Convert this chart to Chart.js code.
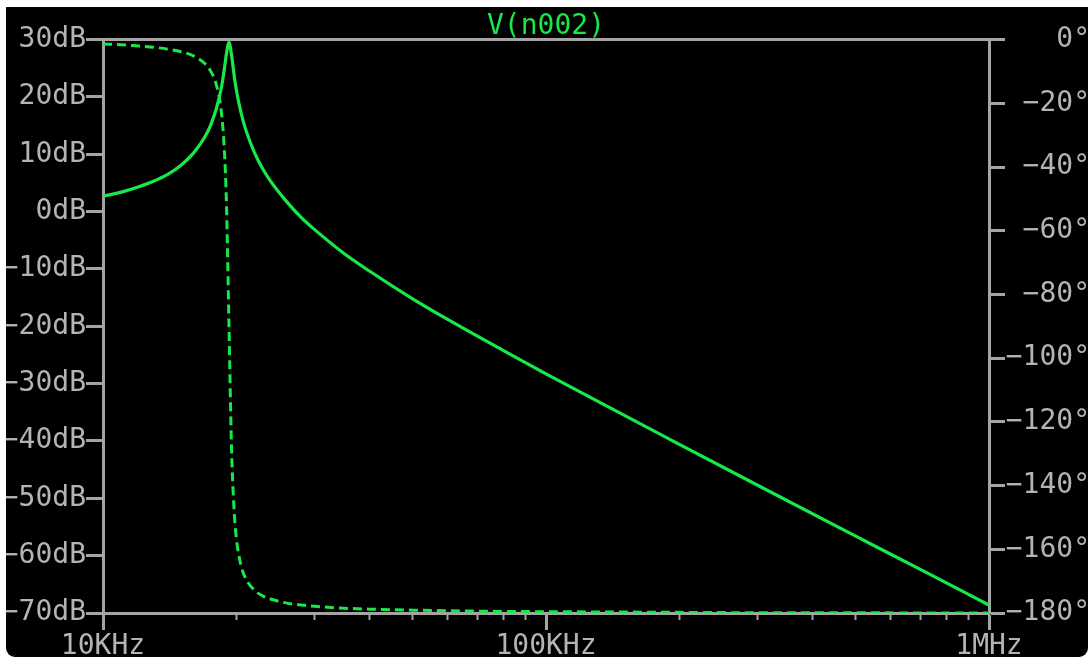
<!DOCTYPE html>
<html>
<head>
<meta charset="utf-8">
<script src="https://cdn.jsdelivr.net/npm/chart.js@4"></script>
<style>
  body { margin: 0; background: #fff; }
  #panel {
    position: absolute; left: 6px; top: 7px; width: 1082px; height: 650px;
    background: #000; overflow: hidden; border-radius: 0 0 9px 9px;
  }
  canvas { display: block; }
</style>
</head>
<body>
<div id="panel"><canvas id="chart" width="1100" height="650" style="width:1100px;height:650px"></canvas></div>
<script>
// AC sweep of node n002: frequency (Hz), magnitude (dB), phase (deg)
const freqHz = [10000, 11000, 12000, 13000, 14000, 15000, 16000, 17000, 17500, 18000,
  18500, 18800, 19000, 19250, 19500, 19800, 20000, 20500, 21000, 22000, 23000, 24000,
  26000, 28000, 30000, 35000, 40000, 50000, 60000, 80000, 100000, 150000, 200000,
  300000, 500000, 700000, 1000000];
const magDb = [2.7, 3.4, 4.3, 5.3, 6.5, 8.1, 10.2, 13.1, 15.1, 17.8,
  21.6, 25.0, 27.6, 29.5, 27.4, 23.4, 21.2, 17.2, 14.3, 10.2, 7.3, 5.1,
  1.7, -1.0, -3.1, -7.3, -10.4, -15.2, -18.8, -24.2, -28.3, -35.5, -40.6,
  -47.7, -56.6, -62.4, -68.6];
const phaseDeg = [-1.4, -1.6, -2.0, -2.4, -3.0, -3.8, -5.1, -7.6, -9.9, -13.9,
  -22.7, -35.2, -51.9, -90, -127.8, -149.4, -156.5, -165.2, -169.2, -172.9, -174.7, -175.7,
  -176.9, -177.5, -177.9, -178.5, -178.8, -179.1, -179.3, -179.5, -179.6, -179.7, -179.8,
  -179.9, -179.9, -180, -180];

// axis ticks
const decadeTicks = [10000, 100000, 1000000];
const decadeLabels = ["10KHz", "100KHz", "1MHz"];
const minorTicks = [20000, 30000, 40000, 50000, 60000, 70000, 80000, 90000,
  200000, 300000, 400000, 500000, 600000, 700000, 800000, 900000];

const trace = "rgb(24, 232, 72)";
const axisGrey = "#a4a4a4";
const textGrey = "#b4b4b4";
const mono = { family: "DejaVu Sans Mono", size: 28, weight: "normal" };

const magPoints = freqHz.map((f, i) => ({ x: f, y: magDb[i] }));
const phasePoints = freqHz.map((f, i) => ({ x: f, y: phaseDeg[i] }));

function fixWidth(w) { return scale => { scale.width = w; }; }
function fixHeight(h) { return scale => { scale.height = h; }; }

let ctx = document.getElementById("chart").getContext("2d");
const chart = new Chart(ctx, {
  type: "line",
  data: {
    datasets: [
      {
        label: "V(n002)",
        data: magPoints,
        yAxisID: "y",
        borderColor: trace,
        borderWidth: 3.2,
        pointRadius: 0,
        cubicInterpolationMode: "monotone"
      },
      {
        label: "phase",
        data: phasePoints,
        yAxisID: "yPhase",
        borderColor: trace,
        borderWidth: 3,
        borderDash: [9, 5],
        pointRadius: 0,
        cubicInterpolationMode: "monotone"
      }
    ]
  },
  options: {
    responsive: false,
    animation: false,
    layout: { padding: { top: 0, bottom: 0, left: 0, right: 16 } },
    plugins: {
      legend: { display: false },
      tooltip: { enabled: false },
      title: {
        display: true,
        text: "V(n002)",
        color: trace,
        font: mono,
        fullSize: false,
        padding: { top: 3, bottom: -4 }
      }
    },
    scales: {
      xMinor: {
        type: "logarithmic",
        position: "bottom",
        weight: 0,
        min: 10000,
        max: 1000000,
        afterBuildTicks: scale => { scale.ticks = minorTicks.map(v => ({ value: v })); },
        afterFit: fixHeight(0),
        border: { display: false },
        grid: { drawOnChartArea: false, tickLength: 7, tickWidth: 2, tickColor: axisGrey },
        ticks: { display: false }
      },
      x: {
        type: "logarithmic",
        position: "bottom",
        weight: 1,
        min: 10000,
        max: 1000000,
        afterBuildTicks: scale => { scale.ticks = decadeTicks.map(v => ({ value: v })); },
        afterFit: fixHeight(44),
        border: { color: axisGrey, width: 3 },
        grid: { drawOnChartArea: false, tickLength: 17, tickWidth: 3, tickColor: axisGrey },
        ticks: {
          color: textGrey,
          font: mono,
          padding: 0,
          maxRotation: 0,
          autoSkip: false,
          callback: v => decadeLabels[decadeTicks.indexOf(v)]
        }
      },
      xTop: {
        type: "logarithmic",
        position: "top",
        min: 10000,
        max: 1000000,
        afterFit: fixHeight(0),
        border: { color: axisGrey, width: 3 },
        grid: { drawOnChartArea: false, drawTicks: false },
        ticks: { display: false }
      },
      y: {
        position: "left",
        min: -70,
        max: 30,
        afterFit: fixWidth(97),
        border: { color: axisGrey, width: 3 },
        grid: { drawOnChartArea: false, tickLength: 17, tickWidth: 3, tickColor: axisGrey },
        ticks: {
          stepSize: 10,
          color: textGrey,
          font: mono,
          padding: 0,
          callback: v => String(v).replace("-", "\u2212") + "dB"
        }
      },
      yPhase: {
        position: "right",
        min: -180,
        max: 0,
        afterFit: fixWidth(101),
        border: { color: axisGrey, width: 3 },
        grid: { drawOnChartArea: false, tickLength: 16, tickWidth: 3, tickColor: axisGrey },
        ticks: {
          stepSize: 20,
          color: textGrey,
          font: mono,
          padding: 0,
          crossAlign: "far",
          callback: v => String(v).replace("-", "\u2212") + "\u00b0"
        }
      }
    }
  }
});
</script>
</body>
</html>
